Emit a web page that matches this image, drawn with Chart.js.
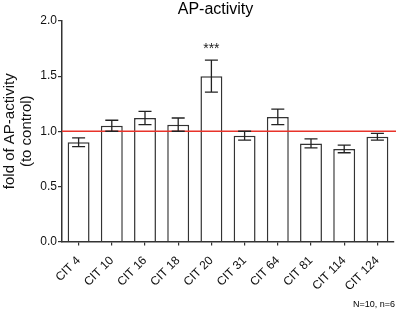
<!DOCTYPE html>
<html>
<head>
<meta charset="utf-8">
<script src="https://cdn.jsdelivr.net/npm/chart.js@4.4.1/dist/chart.umd.min.js"></script>
<style>
  body { margin: 0; background: #fff; }
</style>
</head>
<body>
<canvas id="chartAp" width="397" height="312"></canvas>
<script>
const labels = ['CIT 4', 'CIT 10', 'CIT 16', 'CIT 18', 'CIT 20', 'CIT 31', 'CIT 64', 'CIT 81', 'CIT 114', 'CIT 124'];
const means = [0.90, 1.05, 1.12, 1.06, 1.50, 0.96, 1.13, 0.89, 0.84, 0.95];
const sems = [0.04, 0.05, 0.06, 0.06, 0.145, 0.04, 0.07, 0.04, 0.035, 0.03];
const stars = ['', '', '', '', '***', '', '', '', '', ''];
const yTicks = [0, 0.5, 1.0, 1.5, 2.0];
const controlLevel = 1.0;
const chartTitle = 'AP-activity';
const note = 'N=10, n=6';

const FONT = '"Liberation Sans", Arial, sans-serif';

// error bars, control line, stars, title and note
const extras = {
    id: 'extras',
    afterDatasetsDraw(chart) {
        const ctx = chart.ctx;
        const x = chart.scales.x;
        const y = chart.scales.y;
        const area = chart.chartArea;
        ctx.save();

        // control line
        ctx.strokeStyle = '#e8332a';
        ctx.lineWidth = 1.5;
        ctx.beginPath();
        ctx.moveTo(area.left, y.getPixelForValue(controlLevel));
        ctx.lineTo(area.right + 2, y.getPixelForValue(controlLevel));
        ctx.stroke();

        // error bars
        ctx.strokeStyle = '#222';
        ctx.lineWidth = 1.3;
        means.forEach((m, i) => {
            const cx = x.getPixelForValue(i);
            const top = y.getPixelForValue(m + sems[i]);
            const bot = y.getPixelForValue(m - sems[i]);
            ctx.beginPath();
            ctx.moveTo(cx, top); ctx.lineTo(cx, bot);
            ctx.moveTo(cx - 6.5, top); ctx.lineTo(cx + 6.5, top);
            ctx.moveTo(cx - 6.5, bot); ctx.lineTo(cx + 6.5, bot);
            ctx.stroke();
            if (stars[i]) {
                ctx.fillStyle = '#222';
                ctx.font = '14px ' + FONT;
                ctx.textAlign = 'center';
                ctx.textBaseline = 'alphabetic';
                ctx.fillText(stars[i], cx, top - 7);
            }
        });

        ctx.fillStyle = '#000';
        ctx.font = '16px ' + FONT;
        ctx.textAlign = 'center';
        ctx.textBaseline = 'middle';
        ctx.fillText(chartTitle, 215.5, 10);

        ctx.font = '9px ' + FONT;
        ctx.textAlign = 'right';
        ctx.fillText(note, 395, 305);
        ctx.restore();
    }
};

const ctx = document.getElementById('chartAp').getContext('2d');
const myChart = new Chart(ctx, {
    type: 'bar',
    data: {
        labels: labels,
        datasets: [{
            data: means,
            backgroundColor: '#fff',
            borderColor: '#333',
            borderWidth: 1.5,
            categoryPercentage: 1.0,
            barPercentage: 0.66
        }]
    },
    options: {
        responsive: false,
        devicePixelRatio: 1,
        animation: false,
        layout: {
            autoPadding: false,
            padding: { top: 21, right: 3, left: 0, bottom: 0 }
        },
        plugins: {
            legend: { display: false },
            tooltip: { enabled: false }
        },
        scales: {
            x: {
                grid: {
                    display: true,
                    drawOnChartArea: false,
                    offset: false,
                    tickLength: 4,
                    color: '#333',
                    lineWidth: 1.2
                },
                border: { display: true, color: '#333', width: 1.5 },
                ticks: {
                    autoSkip: false,
                    maxRotation: 45,
                    minRotation: 45,
                    padding: 8,
                    color: '#111',
                    font: { family: FONT, size: 12 }
                },
                afterFit(scale) { scale.height = 70.5; }
            },
            y: {
                min: 0,
                max: 2,
                afterBuildTicks(scale) { scale.ticks = yTicks.map(v => ({ value: v })); },
                grid: {
                    display: true,
                    drawOnChartArea: false,
                    tickLength: 4,
                    color: '#333',
                    lineWidth: 1.2
                },
                border: { display: true, color: '#333', width: 1.5 },
                ticks: {
                    padding: 1,
                    color: '#111',
                    font: { family: FONT, size: 12 },
                    callback: v => v.toFixed(1)
                },
                title: {
                    display: true,
                    text: ['fold of AP-activity', '(to control)'],
                    color: '#111',
                    padding: { top: 2, bottom: 0 },
                    font: { family: FONT, size: 15, lineHeight: 1.1 }
                },
                afterFit(scale) { scale.width = 62; }
            }
        }
    },
    plugins: [extras]
});
</script>
</body>
</html>
